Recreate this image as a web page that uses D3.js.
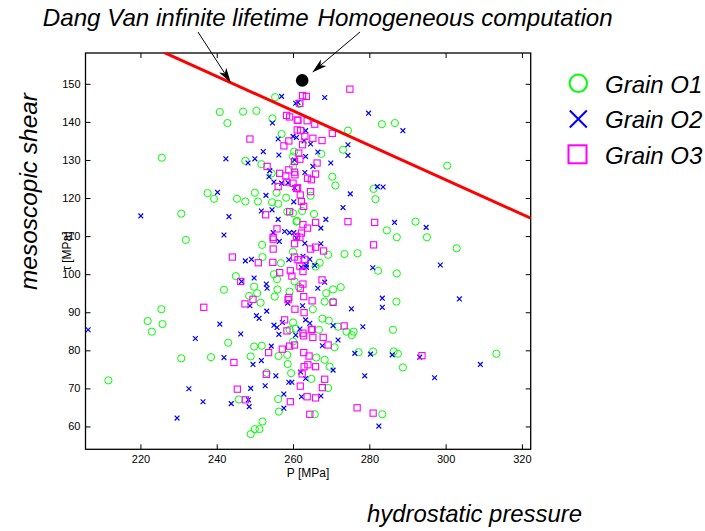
<!DOCTYPE html>
<html><head><meta charset="utf-8">
<script src="https://cdn.jsdelivr.net/npm/d3@7"></script>
<style>body{margin:0;background:#fff} svg{display:block}</style>
</head><body>
<script>
// ---------------- DATA ----------------
const grainO1 = [[255.3,146.5],[240.8,142.6],[246.9,142.7],[250.4,142.9],[242.8,139.7],[254.6,140.9],[257.0,136.8],[225.6,130.6],[247.5,129.8],[251.7,128.9],[254.4,126.5],[237.6,121.3],[239.3,119.8],[245.3,119.8],[247.5,119.1],[250.0,121.4],[250.8,119.1],[254.5,118.9],[256.1,118.5],[258.2,120.1],[230.7,115.9],[231.9,109.0],[258.5,116.4],[260.0,116.0],[261.1,114.0],[260.0,128.3],[255.7,121.4],
[261.6,144.7],[274.4,137.7],[283.3,139.4],[286.7,139.7],[273.1,132.7],[267.4,131.6],[260.3,132.2],[260.0,130.9],[300.4,128.5],[270.3,125.6],[271.1,123.3],[281.1,122.4],[281.6,119.7],[264.6,120.6],[265.5,115.8],[262.4,116.6],[292.1,113.8],[284.6,111.5],[287.2,109.7],[295.1,109.7],[260.9,113.8],
[251.9,107.7],[252.0,104.5],[256.8,102.9],[245.0,99.5],[255.0,100.0],[255.8,98.7],[249.8,96.7],[241.9,95.9],[248.5,94.3],[250.6,95.0],[251.5,92.5],[255.2,94.1],[255.9,96.0],[259.1,95.4],[225.5,90.8],[221.9,87.7],[223.0,84.9],[225.8,86.9],[243.0,82.0],[249.8,81.0],[251.8,81.2],[230.7,77.9],[238.5,78.2],[248.9,78.4],[256.2,78.5],[258.5,78.8],[258.6,76.4],[253.1,74.1],[259.5,74.0],[211.6,72.1],[245.8,67.1],[256.1,67.2],[256.3,63.9],[252.0,61.3],[251.2,59.3],[250.0,59.3],[248.9,58.0],[260.0,105.9],[260.4,98.1],[260.0,87.3],[259.1,85.4],[260.7,85.7],
[302.9,106.8],[273.5,105.3],[276.9,105.5],[269.2,105.1],[267.0,103.0],[265.9,102.0],[282.3,100.9],[287.2,100.2],[272.5,96.6],[270.5,96.0],[268.7,95.0],[270.5,92.8],[268.3,92.8],[287.1,92.8],[265.2,90.8],[267.7,88.3],[269.4,87.8],[271.8,86.2],[274.0,84.9],[275.9,84.9],[275.4,84.0],[286.2,85.4],[266.8,85.4],[270.9,80.8],[277.2,79.5],[281.0,79.7],[286.4,79.7],[287.5,79.1],[288.8,75.5],[313.3,79.1],[266.1,78.1],[269.6,75.7],[264.8,72.5],[269.2,70.1],[283.4,63.2],[265.7,63.2],[260.0,82.3],[261.5,96.7],[268.3,77.5]];

const grainO2 = [[257.0,146.7],[254.6,139.7],[252.2,132.2],[242.4,130.3],[250.0,130.3],[248.2,129.2],[253.9,127.2],[256.3,131.3],[255.0,124.2],[240.2,121.5],[252.9,120.7],[220.1,115.3],[243.2,115.1],[251.7,116.6],[254.5,116.9],[256.1,114.4],[257.8,111.2],[259.1,110.9],[241.9,110.3],[254.8,110.9],[260.0,136.2],[253.7,125.6],[260.4,130.0],[260.7,144.9],[256.1,135.5],
[261.3,145.1],[268.3,146.4],[279.8,142.3],[288.8,137.7],[260.9,135.9],[263.3,137.7],[262.9,135.0],[264.6,134.2],[274.4,134.0],[274.4,131.2],[266.5,132.1],[263.3,130.9],[265.2,128.3],[269.9,129.2],[263.1,126.7],[257.0,123.9],[260.4,122.7],[275.0,121.1],[282.1,123.0],[283.6,122.9],[273.1,117.5],[260.2,119.0],[268.6,114.4],[267.3,112.1],[286.6,113.6],[294.9,112.3],[260.2,110.9],
[256.4,108.6],[247.5,103.5],[249.1,103.9],[246.5,98.1],[249.8,99.0],[253.0,97.4],[253.2,96.3],[258.6,92.4],[248.7,91.7],[253.1,90.3],[250.4,89.1],[251.1,88.4],[206.3,85.4],[240.8,86.9],[255.0,86.6],[255.8,86.0],[257.2,87.3],[234.4,83.1],[246.3,84.3],[256.3,84.2],[241.9,78.1],[254.3,81.1],[249.5,76.3],[251.7,77.3],[232.7,69.9],[248.9,70.0],[252.7,70.7],[236.4,66.5],[243.8,66.0],[248.3,67.0],[248.5,65.2],[255.5,73.3],[229.6,62.2],[257.6,68.5],[257.6,64.8],[258.9,71.6],[259.7,71.6],
[298.6,102.4],[280.9,101.7],[283.4,93.7],[303.6,93.5],[283.4,91.3],[275.3,90.9],[278.3,86.2],[270.5,86.5],[271.8,82.7],[267.7,81.2],[276.2,79.2],[280.3,79.0],[286.0,78.8],[293.2,78.2],[309.1,76.3],[270.5,74.8],[278.8,73.3],[297.1,72.8],[262.2,67.8],[267.3,68.0],[282.5,60.1],[268.3,97.9],[267.3,108.0],[263.1,108.1],[263.5,102.4],[266.5,96.3],[262.5,91.7],[263.3,88.0],[261.8,85.6],[263.3,72.6],[264.4,103.9],[260.7,84.0],
[262.0,74.3],[258.9,103.8],[262.2,101.8],[263.5,101.8],[265.7,102.3],[260.9,109.5],[258.7,124.0],[262.6,104.7],[264.4,87.1]];

const grainO3 = [[248.7,135.5],[258.3,141.7],[259.1,141.3],[261.1,140.5],[258.9,135.0],[257.6,133.7],[256.5,126.5],[258.1,125.8],[260.5,126.1],[258.9,127.4],[253.2,128.3],[256.1,123.0],[252.8,115.6],[259.1,116.4],[255.8,111.9],[254.8,109.7],[260.9,109.9],[260.0,123.9],[261.1,137.9],
[274.9,148.6],[262.5,146.9],[263.5,146.7],[261.8,144.9],[261.3,140.4],[263.7,140.3],[265.7,139.4],[262.0,137.7],[263.1,136.2],[265.2,135.7],[267.6,135.1],[270.3,137.0],[262.5,134.0],[261.5,131.8],[261.8,130.2],[260.4,129.6],[266.3,129.2],[265.9,126.3],[258.4,124.2],[263.8,125.2],[264.8,124.8],[261.2,122.7],[264.6,121.7],[261.9,120.8],[262.2,119.1],[262.8,117.8],[274.4,113.8],[281.4,113.6],[265.9,113.6],[262.6,113.0],[263.8,112.1],[262.2,110.8],[261.8,109.7],
[254.8,109.2],[244.1,104.5],[250.9,103.0],[254.7,103.1],[254.8,106.6],[256.5,100.4],[246.3,98.1],[249.5,93.4],[247.4,92.2],[236.6,91.3],[258.9,93.9],[259.7,99.5],[260.5,90.8],[257.8,88.0],[258.4,85.1],[259.1,81.1],[257.2,80.3],[253.6,79.4],[244.5,76.8],[253.0,73.7],[245.4,69.8],[247.5,67.0],[259.3,66.5],[260.4,108.0],
[281.1,107.7],[265.9,107.1],[264.6,106.6],[268.0,106.1],[260.4,104.5],[263.1,103.9],[259.3,100.9],[262.6,100.7],[267.6,98.5],[262.6,97.4],[261.9,96.3],[262.8,94.1],[265.0,93.0],[262.9,89.9],[273.4,86.4],[265.0,85.5],[267.9,83.4],[265.2,83.4],[262.8,83.8],[260.4,81.4],[269.2,81.4],[262.8,79.4],[264.2,78.5],[293.8,78.6],[263.9,76.2],[265.9,75.7],[262.9,75.7],[262.4,73.8],[268.3,72.4],[261.9,70.6],[267.7,70.2],[263.7,67.8],[265.9,67.5],[276.8,64.9],[281.0,63.5],[264.4,63.2],[270.5,92.6],
[260.9,122.5],[261.3,103.8],[261.8,102.1],[262.6,84.5],[264.8,85.4],[258.7,93.3],[260.4,126.8]];

const homogeneous = [[262.4, 150.9]];
const dangVanSlope = -0.453;      // tau = intercept + slope * P
const dangVanIntercept = 260.7;
const xTicks = [220, 240, 260, 280, 300, 320];
const yTicks = [60, 70, 80, 90, 100, 110, 120, 130, 140, 150];
const xDomain = [205.6, 322.3];
const yDomain = [54, 158.1];
const legendLabels = ["Grain O1", "Grain O2", "Grain O3"];
const annotations = ["Dang Van infinite lifetime", "Homogeneous computation"];

// ---------------- CHART ----------------
const W = 705, H = 531;
const L = 85.5, R = 530.7, T = 53, B = 449.3;
const svg = d3.select("body").append("svg").attr("width", W).attr("height", H)
  .style("font-family", "'Liberation Sans', Arial, Helvetica, sans-serif");

const x = d3.scaleLinear().domain(xDomain).range([L, R]);
const y = d3.scaleLinear().domain(yDomain).range([B, T]);

svg.append("defs").append("clipPath").attr("id", "plotclip")
  .append("rect").attr("x", L).attr("y", T).attr("width", R - L).attr("height", B - T);

// axes (inward ticks, mirrored)
function styleAxis(g) {
  g.select(".domain").remove();
  g.selectAll(".tick line").attr("stroke", "#000").attr("stroke-width", 1);
  g.selectAll(".tick text").attr("fill", "#000").style("font-size", "11px").style("font-family", "'Liberation Sans', Arial, sans-serif");
}
svg.append("g").attr("transform", `translate(0,${B})`)
  .call(d3.axisBottom(x).tickValues(xTicks).tickSizeInner(-5).tickSizeOuter(0).tickPadding(6))
  .call(styleAxis);
svg.append("g").attr("transform", `translate(0,${T})`)
  .call(d3.axisTop(x).tickValues(xTicks).tickSizeInner(-5).tickSizeOuter(0).tickFormat(""))
  .call(styleAxis);
svg.append("g").attr("transform", `translate(${L},0)`)
  .call(d3.axisLeft(y).tickValues(yTicks).tickSizeInner(-5).tickSizeOuter(0).tickPadding(5))
  .call(styleAxis);
svg.append("g").attr("transform", `translate(${R},0)`)
  .call(d3.axisRight(y).tickValues(yTicks).tickSizeInner(-5).tickSizeOuter(0).tickFormat(""))
  .call(styleAxis);

svg.append("rect").attr("x", L).attr("y", T).attr("width", R - L).attr("height", B - T)
  .attr("fill", "none").attr("stroke", "#000").attr("stroke-width", 1.3);

// axis labels
svg.append("text").attr("x", (L + R) / 2).attr("y", 477).attr("text-anchor", "middle")
  .style("font-size", "12px").text("P [MPa]");
svg.append("text").attr("transform", `translate(71,${(T + B) / 2}) rotate(-90)`).attr("text-anchor", "middle")
  .style("font-size", "12px").text("τ [MPa]");

// points
const plot = svg.append("g").attr("clip-path", "url(#plotclip)");
plot.append("g").selectAll("circle").data(grainO1).join("circle")
  .attr("cx", d => x(d[0])).attr("cy", d => y(d[1])).attr("r", 3.6)
  .attr("fill", "none").attr("stroke", "#00ff00").attr("stroke-width", 1);
const xs = 2.4;
plot.append("g").selectAll("path").data(grainO2).join("path")
  .attr("d", d => { const cx = x(d[0]), cy = y(d[1]);
    return `M${cx - xs},${cy - xs}L${cx + xs},${cy + xs}M${cx - xs},${cy + xs}L${cx + xs},${cy - xs}`; })
  .attr("stroke", "#0000ff").attr("stroke-width", 1.2).attr("fill", "none");
const sq = 6.2;
plot.append("g").selectAll("rect").data(grainO3).join("rect")
  .attr("x", d => x(d[0]) - sq / 2).attr("y", d => y(d[1]) - sq / 2).attr("width", sq).attr("height", sq)
  .attr("fill", "none").attr("stroke", "#ff00ff").attr("stroke-width", 1.1);

// Dang Van line
const dv = p => dangVanIntercept + dangVanSlope * p;
plot.append("path").datum(xDomain)
  .attr("d", d => d3.line()(d.map(p => [x(p), y(dv(p))])))
  .attr("stroke", "#ff0000").attr("stroke-width", 3).attr("fill", "none");

// homogeneous point
svg.append("g").selectAll("circle").data(homogeneous).join("circle")
  .attr("cx", d => x(d[0])).attr("cy", d => y(d[1])).attr("r", 6.3).attr("fill", "#000");

// annotations
const big = "24px";
svg.append("text").attr("x", 42.8).attr("y", 26).style("font-size", big).style("font-style", "italic")
  .attr("textLength", 266).attr("lengthAdjust", "spacingAndGlyphs").text(annotations[0]);
svg.append("text").attr("x", 317.6).attr("y", 26).style("font-size", big).style("font-style", "italic")
  .attr("textLength", 295).attr("lengthAdjust", "spacingAndGlyphs").text(annotations[1]);

function arrow(x1, y1, x2, y2) {
  const a = Math.atan2(y2 - y1, x2 - x1);
  const len = 15, w = 4.2, notch = 11;
  const bx = x2 - len * Math.cos(a), by = y2 - len * Math.sin(a);
  const nx = x2 - notch * Math.cos(a), ny = y2 - notch * Math.sin(a);
  const px = -Math.sin(a) * w, py = Math.cos(a) * w;
  svg.append("line").attr("x1", x1).attr("y1", y1).attr("x2", nx).attr("y2", ny)
    .attr("stroke", "#000").attr("stroke-width", 1);
  svg.append("path").attr("d", `M${x2},${y2}L${bx + px},${by + py}L${nx},${ny}L${bx - px},${by - py}Z`)
    .attr("fill", "#000");
}
const tip1P = 243.7;
arrow(198, 32, x(tip1P), y(dv(tip1P)));
arrow(360, 32, x(homogeneous[0][0]) + 10, y(homogeneous[0][1]) - 8);

// legend
const lg = svg.append("g");
const ly = [83.3, 119, 154.3];
lg.append("circle").attr("cx", 578.3).attr("cy", ly[0]).attr("r", 8.7)
  .attr("fill", "none").attr("stroke", "#00ff00").attr("stroke-width", 2);
lg.append("path").attr("d", `M${578.3 - 8.5},${ly[1] - 8.5}L${578.3 + 8.5},${ly[1] + 8.5}M${578.3 - 8.5},${ly[1] + 8.5}L${578.3 + 8.5},${ly[1] - 8.5}`)
  .attr("stroke", "#0000ff").attr("stroke-width", 2);
lg.append("rect").attr("x", 577.5 - 9).attr("y", ly[2] - 9).attr("width", 18).attr("height", 18)
  .attr("fill", "none").attr("stroke", "#ff00ff").attr("stroke-width", 2);
lg.selectAll("text").data(legendLabels).join("text")
  .attr("x", 605).attr("y", (d, i) => ly[i] + 9.3)
  .style("font-size", big).style("font-style", "italic").text(d => d);

// big axis titles
svg.append("text").attr("transform", "translate(37,290) rotate(-90)")
  .style("font-size", big).style("font-style", "italic")
  .attr("textLength", 197).attr("lengthAdjust", "spacingAndGlyphs").text("mesoscopic shear");
svg.append("text").attr("x", 367).attr("y", 522)
  .style("font-size", big).style("font-style", "italic")
  .attr("textLength", 215).attr("lengthAdjust", "spacingAndGlyphs").text("hydrostatic pressure");
</script>
</body></html>
